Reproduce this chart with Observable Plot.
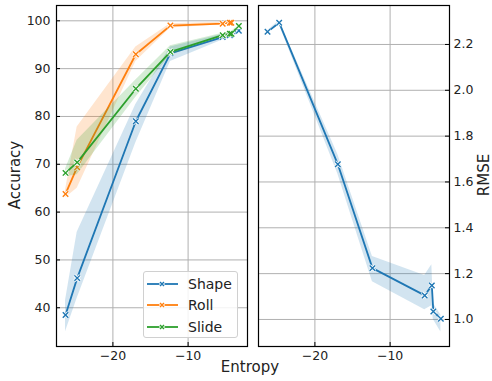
<!DOCTYPE html>
<html><head><meta charset="utf-8">
<script src="https://cdn.jsdelivr.net/npm/d3@7"></script>
<script src="https://cdn.jsdelivr.net/npm/@observablehq/plot@0.6"></script>
<style>
body{margin:0;background:#fff;}
#wrap{position:relative;width:492px;height:381px;font-family:"DejaVu Sans",sans-serif;color:#222;}
#left{position:absolute;left:0;top:0}
#right{position:absolute;left:250px;top:0}
.lab{position:absolute;font-size:15px;white-space:nowrap;}
#legend{position:absolute;left:143px;top:271px;width:95px;height:67px;border:1px solid #d0d0d0;border-radius:3px;background:rgba(255,255,255,0.85);box-sizing:border-box;}
.li{position:absolute;left:3px;height:20px;display:flex;align-items:center;font-size:14px;}
.li span{margin-left:10px;}
</style></head><body>
<div id="wrap">
  <div id="left"></div>
  <div id="right"></div>
  <div class="lab" style="left:250px;top:367px;transform:translate(-50%,-50%);">Entropy</div>
  <div class="lab" style="left:15px;top:175px;transform:translate(-50%,-50%) rotate(-90deg);">Accuracy</div>
  <div class="lab" style="left:484px;top:175px;transform:translate(-50%,-50%) rotate(-90deg);">RMSE</div>
  <div id="legend"></div>
</div>
<script>
// ---- data ----
const entropy = [-26.3, -24.75, -16.95, -12.35, -5.4, -4.45, -4.25, -3.25];
const seriesNames = ["Shape", "Roll", "Slide"];
const seriesColors = ["#1f77b4", "#ff7f0e", "#2ca02c"];

const shapeAcc   = [38.5, 46.2, 79.0, 93.2, 96.6, 97.0, 97.2, 97.9];
const shapeAccLo = [35.0, 42.0, 74.5, 91.5, 96.0, 96.4, 96.6, 97.3];
const shapeAccHi = [41.5, 55.8, 82.5, 94.5, 97.2, 97.5, 97.7, 98.4];

const rollAcc    = [63.8, 69.4, 93.0, 99.0, 99.4, 99.6, 99.6, null];
const rollAccLo  = [63.0, 65.0, 91.5, 98.5, 99.2, 99.4, 99.4, null];
const rollAccHi  = [64.6, 77.8, 94.5, 99.4, 99.7, 99.8, 99.8, null];

const slideAcc   = [68.2, 70.4, 85.8, 93.5, 97.0, 97.3, 97.3, 98.9];
const slideAccLo = [67.4, 67.8, 84.0, 92.8, 96.7, 96.9, 97.0, 98.5];
const slideAccHi = [69.0, 75.0, 87.6, 94.8, 97.4, 97.6, 97.7, 99.2];

const shapeRmse   = [2.255, 2.295, 1.677, 1.224, 1.105, 1.148, 1.035, 1.003];
const shapeRmseLo = [2.250, 2.287, 1.635, 1.165, 1.042, 1.060, 1.000, 0.945];
const shapeRmseHi = [2.260, 2.303, 1.720, 1.275, 1.192, 1.239, 1.070, 1.020];

const xTicks = [-20, -10];
const accTicks = [40, 50, 60, 70, 80, 90, 100];
const rmseTicks = [1.0, 1.2, 1.4, 1.6, 1.8, 2.0, 2.2];

const xDomain = [-27.5, -2.1];
const accDomain = [31.9, 103.2];
const rmseDomain = [0.882, 2.370];

// ---- build tables ----
function rows(name, v, lo, hi) {
  return entropy.map((e, i) => ({series: name, x: e, y: v[i], lo: lo[i], hi: hi[i]}))
    .filter(d => d.y != null);
}
const accSeries = [
  rows("Shape", shapeAcc, shapeAccLo, shapeAccHi),
  rows("Roll", rollAcc, rollAccLo, rollAccHi),
  rows("Slide", slideAcc, slideAccLo, slideAccHi)
];
const rmseSeries = [rows("Shape", shapeRmse, shapeRmseLo, shapeRmseHi)];

const H = 381, MT = 5, MB = 35;
const gridStyle = {stroke: "#b0b0b0", strokeOpacity: 1, strokeWidth: 1};
const font = {fontFamily: "DejaVu Sans", fontSize: "12.5px", color: "#222", background: "transparent"};

function seriesMarks(list) {
  const m = [];
  list.forEach(data => {
    const c = seriesColors[seriesNames.indexOf(data[0].series)];
    m.push(Plot.areaY(data, {x: "x", y1: "lo", y2: "hi", fill: c, fillOpacity: 0.2, curve: "linear"}));
    m.push(Plot.lineY(data, {x: "x", y: "y", stroke: c, strokeWidth: 1.8}));
    m.push(Plot.dot(data, {x: "x", y: "y", symbol: "times", r: 2.6, stroke: "white", strokeWidth: 3}));
    m.push(Plot.dot(data, {x: "x", y: "y", symbol: "times", r: 2.6, stroke: c, strokeWidth: 1.4}));
  });
  return m;
}

// Left panel
const LW = 250, LML = 56, LMR = 3;
const lfw = LW - LML - LMR, fh = H - MT - MB;
const left = Plot.plot({
  width: LW, height: H, marginLeft: LML, marginRight: LMR, marginTop: MT, marginBottom: MB,
  style: font,
  x: {domain: xDomain},
  y: {domain: accDomain},
  marks: [
    Plot.gridX(xTicks, gridStyle),
    Plot.gridY(accTicks, gridStyle),
    ...seriesMarks(accSeries),
    Plot.tickY(accTicks, {y: d => d, insetRight: lfw - 4, stroke: "black"}),
    Plot.tickX(xTicks, {x: d => d, insetTop: fh - 4, stroke: "black"}),
    Plot.axisX(xTicks, {tickSize: 0, tickPadding: 5, label: null}),
    Plot.axisY(accTicks, {tickSize: 0, tickPadding: 6, label: null}),
    Plot.frame({stroke: "black", strokeWidth: 1.2})
  ]
});
document.getElementById("left").appendChild(left);

// Right panel
const RW = 242, RML = 8, RMR = 43;
const rfw = RW - RML - RMR;
const right = Plot.plot({
  width: RW, height: H, marginLeft: RML, marginRight: RMR, marginTop: MT, marginBottom: MB,
  style: font,
  x: {domain: xDomain},
  y: {domain: rmseDomain},
  marks: [
    Plot.gridX(xTicks, gridStyle),
    Plot.gridY(rmseTicks, gridStyle),
    ...seriesMarks(rmseSeries),
    Plot.tickY(rmseTicks, {y: d => d, insetLeft: rfw - 4, stroke: "black"}),
    Plot.tickX(xTicks, {x: d => d, insetTop: fh - 4, stroke: "black"}),
    Plot.axisX(xTicks, {tickSize: 0, tickPadding: 5, label: null}),
    Plot.axisY(rmseTicks, {anchor: "right", tickSize: 0, tickPadding: 4, tickFormat: d3.format(".1f"), label: null}),
    Plot.frame({stroke: "black", strokeWidth: 1.2})
  ]
});
document.getElementById("right").appendChild(right);

// Legend
const leg = document.getElementById("legend");
seriesNames.forEach((n, i) => {
  const c = seriesColors[i];
  const d = document.createElement("div");
  d.className = "li";
  d.style.top = (2 + i * 21.3) + "px";
  d.innerHTML = `<svg width="31" height="12"><line x1="0" y1="6" x2="31" y2="6" stroke="${c}" stroke-width="1.8"/>
    <path d="M13,4L17,8M17,4L13,8" stroke="white" stroke-width="3"/>
    <path d="M13,4L17,8M17,4L13,8" stroke="${c}" stroke-width="1.4"/></svg><span>${n}</span>`;
  leg.appendChild(d);
});
</script>
</body></html>
